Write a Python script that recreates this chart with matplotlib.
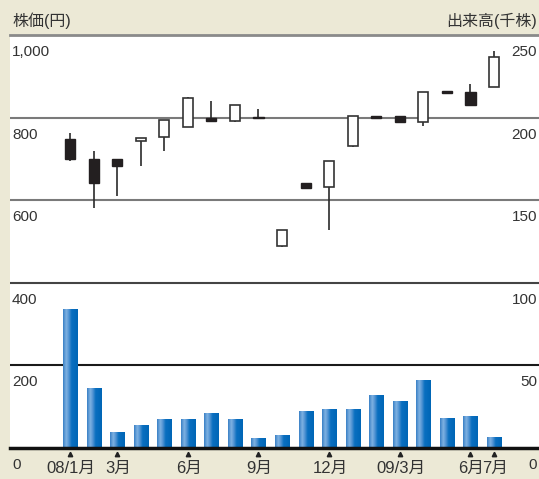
import numpy as np
import matplotlib
matplotlib.use("Agg")
import matplotlib.pyplot as plt
from matplotlib.colors import LinearSegmentedColormap

plt.rcParams['font.family'] = ['Liberation Sans', 'Noto Sans CJK JP', 'DejaVu Sans']

# ---- data ----
months = ['08/1月', '', '3月', '', '', '6月', '', '', '9月', '', '', '12月', '', '',
          '09/3月', '', '', '6月', '7月']
opens = [747, 699, 700, 743, 753, 778, 800, 792, 802, 489, 641, 631, 731, 805, 803, 790, 864, 862, 874]
closes = [699, 641, 682, 751, 793, 848, 792, 830, 798, 528, 630, 696, 803, 800, 789, 862, 860, 830, 946]
highs = [763, 720, 700, 751, 793, 849, 839, 830, 820, 528, 641, 696, 803, 805, 803, 862, 864, 881, 961]
lows = [695, 581, 609, 683, 720, 778, 792, 790, 798, 487, 629, 528, 730, 800, 789, 780, 860, 830, 874]
volumes = [84, 36, 9.3, 13.4, 17.1, 17.1, 20.7, 17.1, 5.5, 7.3, 22, 23.2, 23.2, 31.7, 28, 40.9, 17.7, 18.9, 6.1]
price_ticks = [1000, 800, 600, 400, 200, 0]
price_labels = ['1,000', '800', '600', '400', '200', '0']
vol_labels = ['250', '200', '150', '100', '50', '0']

BEIGE = '#ECE9D6'
W, H = 539, 479
fig = plt.figure(figsize=(W / 100, H / 100), dpi=100, facecolor=BEIGE)
ax = fig.add_axes([10 / W, (H - 448) / H, (W - 10) / W, (448 - 35) / H])
ax.set_facecolor('white')
ax2 = ax.twinx()

x = np.arange(len(opens))
xlim = (-2.55, 19.91)

# grid lines
ax.axhline(1000, color='#8a8a8a', lw=2, clip_on=False, zorder=1)
for v, c in [(800, '#7a7a7a'), (600, '#7a7a7a'), (400, '#444444'), (200, '#1a1a1a')]:
    ax.axhline(v, color=c, lw=1.5, zorder=1)

# candles
o = np.array(opens); c = np.array(closes)
up = c >= o
ax.vlines(x, lows, highs, color='#2a2a2a', lw=1.2, zorder=2)
ax.bar(x[up], (c - o)[up], bottom=o[up], width=0.43, color='white',
       edgecolor='#333333', lw=1.2, zorder=3)
ax.bar(x[~up], (o - c)[~up], bottom=c[~up], width=0.43, color='#231f20',
       edgecolor='#231f20', lw=1.0, zorder=3)

# volume bars with gradient
cmap = LinearSegmentedColormap.from_list('b', [(0, '#3a80c6'), (0.22, '#7fb2e2'),
                                               (0.38, '#5595d4'), (0.58, '#0a6fc0'),
                                               (1.0, '#0066b6')])
grad = np.linspace(0, 1, 64).reshape(1, -1)
bw = 0.6
for xi, v in zip(x, volumes):
    ax2.imshow(grad, cmap=cmap, aspect='auto', extent=[xi - bw / 2, xi + bw / 2, 0, v],
               zorder=3, interpolation='bilinear')
ax2.axhline(0, color='#111111', lw=2.5, clip_on=False, zorder=5)

ax.set_xlim(*xlim); ax2.set_xlim(*xlim)
ax.set_ylim(0, 1000); ax2.set_ylim(0, 250)
for a in (ax, ax2):
    a.set_xticks([]); a.set_yticks([])
    for s in a.spines.values():
        s.set_visible(False)

# axis labels inside the plot
for v, lab, rlab in zip(price_ticks, price_labels, vol_labels):
    ax.annotate(lab, xy=(0, v), xycoords=('axes fraction', 'data'), xytext=(2, -10),
                textcoords='offset pixels', ha='left', va='top', fontsize=11,
                color='#333333', annotation_clip=False)
    ax.annotate(rlab, xy=(1, v), xycoords=('axes fraction', 'data'), xytext=(-2, -10),
                textcoords='offset pixels', ha='right', va='top', fontsize=11,
                color='#333333', annotation_clip=False)

# month labels and triangle markers
for xi, m in zip(x, months):
    if m:
        ax.plot([xi], [-6 / 413], marker='^', ms=3.2, color='#222222',
                transform=ax.get_xaxis_transform(), clip_on=False)
        ax.annotate(m, xy=(xi, 0), xycoords=('data', 'axes fraction'), xytext=(1, -13),
                    textcoords='offset pixels', ha='center', va='top', fontsize=12,
                    color='#333333', annotation_clip=False)

fig.text(12 / W, 1 - 21 / H, '株価(円)', ha='left', va='center', fontsize=11.5, color='#333333')
fig.text(537 / W, 1 - 21 / H, '出来高(千株)', ha='right', va='center', fontsize=11.5, color='#333333')

fig.savefig('out.png', dpi=100, facecolor=BEIGE)
